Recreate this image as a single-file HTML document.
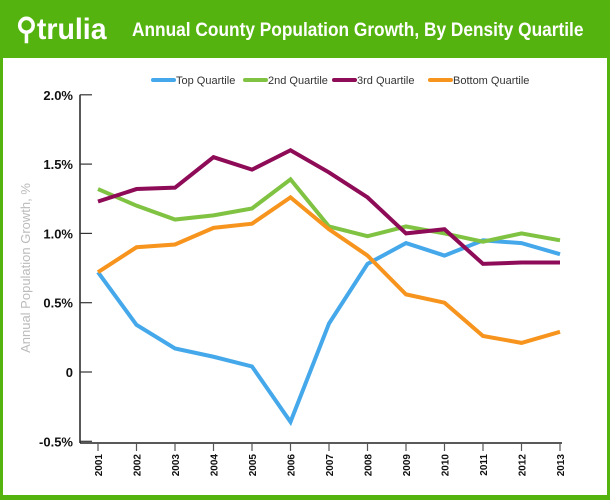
<!DOCTYPE html>
<html><head><meta charset="utf-8"><style>
body{margin:0;width:610px;height:500px;overflow:hidden;font-family:"Liberation Sans",sans-serif}
#wrap{position:absolute;left:0;top:0;width:610px;height:500px;box-sizing:border-box;border:3px solid #55b30f;border-top:none;border-bottom:5px solid #55b30f;background:#fff}
#hdr{position:absolute;left:0;top:0;width:610px;height:58px;background:#55b30f;color:#fff}
</style></head><body>
<div id="wrap"></div>
<div id="hdr">
<span style="position:absolute;left:16px;top:12px;font-size:30px;font-weight:bold;white-space:nowrap;transform:scaleX(0.95);transform-origin:left">&#9906;trulia</span>
<span style="position:absolute;left:132px;top:20px;font-size:19px;font-weight:bold;white-space:nowrap;transform:scaleX(0.91);transform-origin:left">Annual County Population Growth, By Density Quartile</span>
</div>
<svg id="c" width="610" height="500" style="position:absolute;left:0;top:0"></svg>
<script>
const years=["2001","2002","2003","2004","2005","2006","2007","2008","2009","2010","2011","2012","2013"];
const topQ=[0.72,0.34,0.17,0.11,0.04,-0.36,0.35,0.78,0.93,0.84,0.95,0.93,0.85];
const q2=[1.32,1.20,1.10,1.13,1.18,1.39,1.05,0.98,1.05,1.0,0.94,1.0,0.95];
const q3=[1.23,1.32,1.33,1.55,1.46,1.60,1.44,1.26,1.0,1.03,0.78,0.79,0.79];
const bottomQ=[0.72,0.90,0.92,1.04,1.07,1.26,1.03,0.84,0.56,0.50,0.26,0.21,0.29];
const yTicks=[2.0,1.5,1.0,0.5,0,-0.5];
const yLabels=["2.0%","1.5%","1.0%","0.5%","0","-0.5%"];
const seriesNames=["Top Quartile","2nd Quartile","3rd Quartile","Bottom Quartile"];
const colors=["#45a8ea","#80c342","#8e0b57","#f7941d"];
const x=i=>98+i*38.5;
const y=v=>372-v*138.6;
const svg=document.getElementById('c');
const NS="http://www.w3.org/2000/svg";
function mk(t,a,parent){const e=document.createElementNS(NS,t);for(const k in a)e.setAttribute(k,a[k]);(parent||svg).appendChild(e);return e;}
let e;
e=mk('line',{x1:80,y1:y(2),x2:80,y2:443,stroke:'#222','stroke-width':1.5});


e=mk('line',{x1:80,y1:443,x2:562,y2:443,stroke:'#222','stroke-width':1.5});


yTicks.forEach((v,i)=>{
 e=mk('line',{x1:80,y1:y(v),x2:92,y2:y(v),stroke:'#333','stroke-width':1.2});
 
 
 e=mk('text',{x:73,y:y(v)+5,'text-anchor':'end','font-size':13,'font-weight':'bold',fill:'#111'});
 e.textContent=yLabels[i];
 
 
});
years.forEach((yr,i)=>{
 e=mk('line',{x1:x(i),y1:443,x2:x(i),y2:451,stroke:'#555','stroke-width':1.2});
 
 
 e=mk('text',{x:0,y:0,'font-size':10,'font-weight':'bold',fill:'#111','text-anchor':'end',transform:`translate(${x(i)+4},454) rotate(-90)`});
 e.textContent=yr;
 
 
});
e=mk('text',{x:0,y:0,'font-size':13,fill:'#bbb','text-anchor':'middle',transform:'translate(30,268) rotate(-90)'});
e.textContent="Annual Population Growth, %";


[topQ,q2,q3,bottomQ].forEach((s,k)=>{
 e=mk('polyline',{points:s.map((v,i)=>x(i)+','+y(v)).join(' '),fill:'none',stroke:colors[k],'stroke-width':4,'stroke-linejoin':'miter'});
 
 
});
const legX=[153,245,334,430];
seriesNames.forEach((n,k)=>{
 e=mk('line',{x1:legX[k],y1:80,x2:legX[k]+21,y2:80,stroke:colors[k],'stroke-width':4,'stroke-linecap':'round'});
 
 
 e=mk('text',{x:legX[k]+23,y:84,'font-size':11,fill:'#333'});
 e.textContent=n;
 
 
});
</script>
</body></html>
